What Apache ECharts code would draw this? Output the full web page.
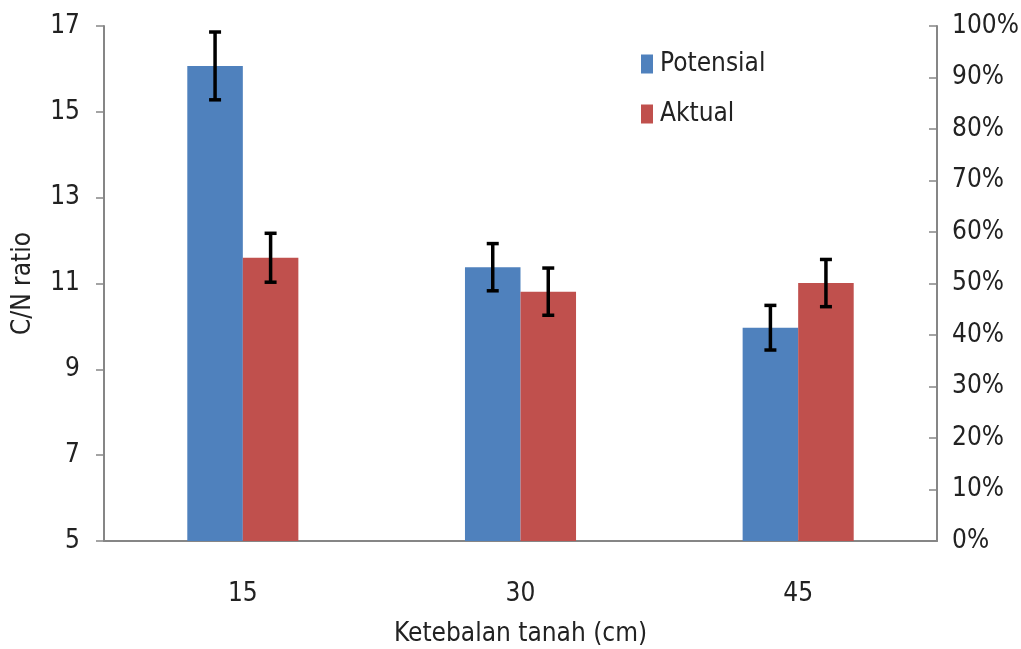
<!DOCTYPE html>
<html>
<head>
<meta charset="utf-8">
<script src="https://cdn.jsdelivr.net/npm/echarts@6/dist/echarts.min.js"></script>
<style>html,body{margin:0;padding:0;background:#fff}#c{width:1021px;height:649px}</style>
</head>
<body>
<div id="c"></div>
<script>
const categories = ['15', '30', '45'];
const potensial = [16.07, 11.38, 9.97];
const aktual = [11.6, 10.81, 11.01];
const potensialErr = [0.79, 0.55, 0.52];
const aktualErr = [0.57, 0.55, 0.55];
const leftTicks = {min: 5, max: 17, interval: 2};
const rightTicks = {min: 0, max: 1, interval: 0.1};

const FONT = "'Liberation Sans Narrow', 'DejaVu Sans Condensed', 'Liberation Sans', sans-serif";
const TXT = '#222';
const AX = '#868686';

function errSeries(name, vals, errs, sign) {
  return {
    type: 'custom',
    name: name + ' err',
    yAxisIndex: 0,
    z: 10,
    silent: true,
    data: vals.map((v, i) => [i, v, errs[i]]),
    renderItem: function (params, api) {
      const idx = api.value(0), v = api.value(1), e = api.value(2);
      const band = api.size([1, 0])[0];
      const off = sign * band * 0.1;
      const top = api.coord([idx, v + e]);
      const bot = api.coord([idx, v - e]);
      const x = top[0] + off;
      const cw = 6;
      const st = {stroke: '#000', lineWidth: 3.5};
      return {
        type: 'group',
        children: [
          {type: 'line', shape: {x1: x, y1: top[1], x2: x, y2: bot[1]}, style: st},
          {type: 'line', shape: {x1: x - cw, y1: top[1], x2: x + cw, y2: top[1]}, style: st},
          {type: 'line', shape: {x1: x - cw, y1: bot[1], x2: x + cw, y2: bot[1]}, style: st}
        ]
      };
    }
  };
}

const chart = echarts.init(document.getElementById('c'), null, {renderer: 'canvas'});
chart.setOption({
  animation: false,
  backgroundColor: '#fff',
  textStyle: {fontFamily: FONT},
  grid: {left: 104, right: 84, top: 26, bottom: 108, containLabel: false, outerBoundsMode: 'none'},
  legend: {
    data: ['Potensial', 'Aktual'],
    orient: 'vertical',
    left: 636,
    top: 46,
    icon: 'rect',
    itemWidth: 12,
    itemHeight: 19,
    itemGap: 24,
    textStyle: {fontFamily: FONT, fontSize: 26, color: TXT, padding: [0, 0, 0, 2]}
  },
  xAxis: {
    type: 'category',
    data: categories,
    name: 'Ketebalan tanah (cm)',
    nameLocation: 'middle',
    nameGap: 80,
    nameTextStyle: {fontFamily: FONT, fontSize: 26, color: TXT},
    axisLine: {lineStyle: {color: AX, width: 2}},
    axisTick: {show: false},
    axisLabel: {fontFamily: FONT, fontSize: 26, color: TXT, margin: 40},
    splitLine: {show: false}
  },
  yAxis: [
    {
      type: 'value',
      min: leftTicks.min, max: leftTicks.max, interval: leftTicks.interval,
      name: 'C/N ratio',
      nameLocation: 'middle',
      nameRotate: 90,
      nameGap: 68,
      nameTextStyle: {fontFamily: FONT, fontSize: 26, color: TXT},
      axisLine: {show: true, lineStyle: {color: AX, width: 2}},
      axisTick: {show: true, length: 8, lineStyle: {color: AX, width: 1.5}},
      axisLabel: {fontFamily: FONT, fontSize: 26, color: TXT, margin: 24},
      splitLine: {show: false}
    },
    {
      type: 'value',
      position: 'right',
      min: rightTicks.min, max: rightTicks.max, interval: rightTicks.interval,
      axisLine: {show: true, lineStyle: {color: AX, width: 2}},
      axisTick: {show: true, inside: true, length: 8, lineStyle: {color: AX, width: 1.5}},
      axisLabel: {fontFamily: FONT, fontSize: 26, color: TXT, margin: 15,
        formatter: v => Math.round(v * 100) + '%'},
      splitLine: {show: false}
    }
  ],
  series: [
    {type: 'bar', name: 'Potensial', data: potensial, yAxisIndex: 0,
      itemStyle: {color: '#4F81BD'}, barGap: '0%', barCategoryGap: '60%'},
    {type: 'bar', name: 'Aktual', data: aktual, yAxisIndex: 0,
      itemStyle: {color: '#C0504D'}, barGap: '0%', barCategoryGap: '60%'},
    errSeries('Potensial', potensial, potensialErr, -1),
    errSeries('Aktual', aktual, aktualErr, 1)
  ]
});
</script>
</body>
</html>
